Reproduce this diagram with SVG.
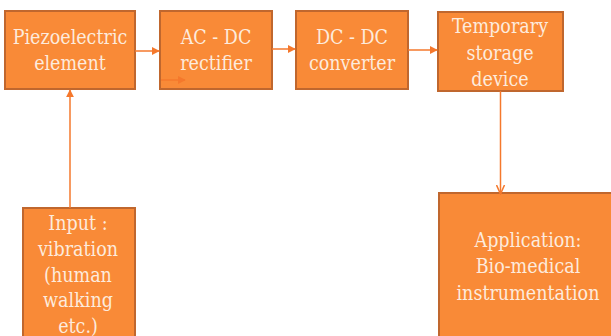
<svg xmlns="http://www.w3.org/2000/svg" width="611" height="336" viewBox="0 0 611 336">
<style>
.box{fill:#F98A37;stroke:#C0672E;stroke-width:2}
.t{font-family:'DejaVu Serif Condensed','DejaVu Serif',serif;font-stretch:condensed;font-size:19.5px;fill:#FDEBDD;text-anchor:middle}
.c{stroke:#F5782C;stroke-width:1.5;fill:none}
</style>
<defs>
<marker id="ah" viewBox="0 0 10 10" refX="9" refY="5" markerWidth="8" markerHeight="8" markerUnits="userSpaceOnUse" orient="auto">
<path d="M0,0 L10,5 L0,10 z" fill="#F5782C"/>
</marker>
<marker id="av" viewBox="0 0 10 10" refX="9" refY="5" markerWidth="10" markerHeight="10" markerUnits="userSpaceOnUse" orient="auto">
<path d="M0,1 L9,5 L0,9" fill="none" stroke="#F5782C" stroke-width="1.5"/>
</marker>
</defs>
<rect width="611" height="336" fill="#fff"/>
<g id="piezo">
<rect class="box" x="5" y="11" width="130" height="78"/>
<text class="t" x="70" y="44">Piezoelectric</text>
<text class="t" x="70" y="70">element</text>
</g>
<g id="acdc">
<rect class="box" x="160" y="11" width="112" height="78"/>
<text class="t" x="216" y="44">AC - DC</text>
<text class="t" x="216" y="70">rectifier</text>
</g>
<g id="dcdc">
<rect class="box" x="296" y="11" width="112" height="78"/>
<text class="t" x="352" y="44">DC - DC</text>
<text class="t" x="352" y="70">converter</text>
</g>
<g id="storage">
<rect class="box" x="438" y="12" width="125" height="79"/>
<text class="t" x="500" y="33">Temporary</text>
<text class="t" x="500" y="60">storage</text>
<text class="t" x="500" y="86">device</text>
</g>
<g id="input">
<rect class="box" x="23" y="208" width="112" height="140"/>
<text class="t" x="78" y="230">Input :</text>
<text class="t" x="78" y="256">vibration</text>
<text class="t" x="78" y="282">(human</text>
<text class="t" x="78" y="307">walking</text>
<text class="t" x="78" y="333">etc.)</text>
</g>
<g id="application">
<rect class="box" x="439" y="193" width="180" height="160"/>
<text class="t" x="528" y="247">Application:</text>
<text class="t" x="528" y="273">Bio-medical</text>
<text class="t" x="528" y="300">instrumentation</text>
</g>
<g id="connectors">
<line class="c" x1="135" y1="51" x2="159" y2="51" marker-end="url(#ah)"/>
<line class="c" x1="161" y1="80" x2="185" y2="80" marker-end="url(#ah)"/>
<line class="c" x1="272" y1="49" x2="295" y2="49" marker-end="url(#ah)"/>
<line class="c" x1="408" y1="50" x2="437" y2="50" marker-end="url(#ah)"/>
<line class="c" x1="70" y1="208" x2="70" y2="90" marker-end="url(#ah)"/>
<line class="c" x1="500.5" y1="91" x2="500.5" y2="194" marker-end="url(#av)"/>
</g>
</svg>
